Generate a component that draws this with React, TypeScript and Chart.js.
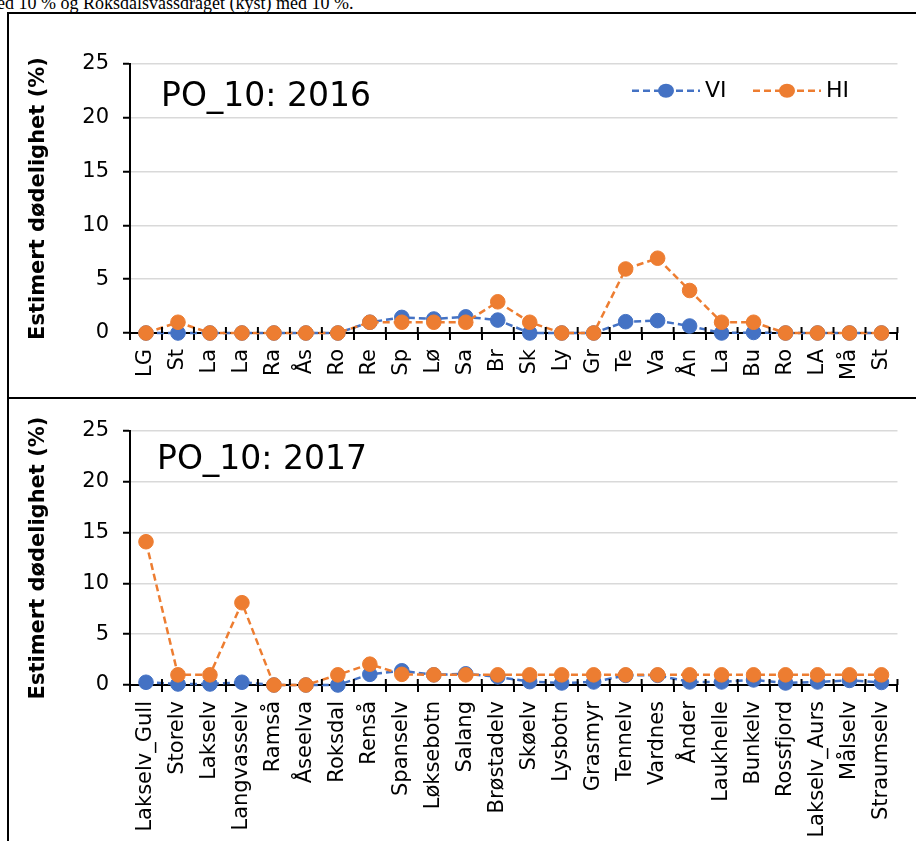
import React, { useEffect, useRef } from 'react';
import { Chart, registerables } from 'chart.js';

Chart.register(...registerables);

const FONT = '"DejaVu Sans", sans-serif';

const labels2016 = ['LG', 'St', 'La', 'La', 'Ra', 'Ås', 'Ro', 'Re', 'Sp', 'Lø', 'Sa', 'Br', 'Sk', 'Ly', 'Gr', 'Te', 'Va', 'Ån', 'La', 'Bu', 'Ro', 'LA', 'Må', 'St'];
const vi2016 = [0, 0, 0, 0, 0, 0, 0, 1.0, 1.45, 1.3, 1.5, 1.2, 0, 0, 0, 1.05, 1.15, 0.65, 0, 0.05, 0, 0, 0, 0];
const hi2016 = [0, 1, 0, 0, 0, 0, 0, 1, 1, 1, 1, 2.9, 1, 0, 0, 5.95, 6.95, 3.95, 1, 1, 0, 0, 0, 0];

const labels2017 = ['Lakselv_Gull', 'Storelv', 'Lakselv', 'Langvasselv', 'Ramså', 'Åseelva', 'Roksdal', 'Renså', 'Spanselv', 'Løksebotn', 'Salang', 'Brøstadelv', 'Skøelv', 'Lysbotn', 'Grasmyr', 'Tennelv', 'Vardnes', 'Ånder', 'Laukhelle', 'Bunkelv', 'Rossfjord', 'Lakselv_Aurs', 'Målselv', 'Straumselv'];
const vi2017 = [0.27, 0.1, 0.1, 0.27, 0, 0, 0, 1.05, 1.4, 1.0, 1.1, 0.8, 0.33, 0.2, 0.3, 0.95, 0.95, 0.3, 0.3, 0.5, 0.2, 0.3, 0.45, 0.25];
const hi2017 = [14.1, 1, 1, 8.1, 0, 0, 1, 2.05, 1.05, 1, 1, 1, 1, 1, 1, 1, 1, 1, 1, 1, 1, 1, 1, 1];

const seriesNames = ['VI', 'HI'];
const yMin = 0;
const yMax = 25;
const yStep = 2.5;
const yLabelStep = 5;
const yTitle = 'Estimert dødelighet (%)';
const title2016 = 'PO_10: 2016';
const title2017 = 'PO_10: 2017';
const introText = 'med 10 % og Roksdalsvassdraget (kyst) med 10 %.';

const BLUE = '#4472C4';
const ORANGE = '#ED7D31';

const decorPlugin = {
  id: 'decor',
  afterDatasetsDraw(chart: any, _args: any, opts: any) {
    const { ctx, chartArea } = chart;
    const n = chart.data.labels.length;
    ctx.save();
    ctx.strokeStyle = '#000';
    ctx.lineWidth = 2;
    for (let i = 0; i <= n; i++) {
      const x = chartArea.left + ((chartArea.right - chartArea.left) * i) / n;
      ctx.beginPath();
      ctx.moveTo(x, chartArea.bottom - 6);
      ctx.lineTo(x, chartArea.bottom);
      ctx.stroke();
    }
    ctx.fillStyle = '#000';
    ctx.font = '33px ' + FONT;
    ctx.textAlign = 'left';
    ctx.textBaseline = 'alphabetic';
    ctx.fillText(opts.title, opts.titleX, opts.titleY);
    if (opts.legend) {
      const { xs, y, textY } = opts.legend;
      chart.data.datasets.forEach((ds: any, i: number) => {
        const x0 = xs[i];
        ctx.strokeStyle = ds.borderColor;
        ctx.lineWidth = 2.5;
        ctx.setLineDash([7, 4]);
        ctx.beginPath();
        ctx.moveTo(x0, y);
        ctx.lineTo(x0 + 68, y);
        ctx.stroke();
        ctx.setLineDash([]);
        ctx.fillStyle = ds.borderColor;
        ctx.beginPath();
        ctx.ellipse(x0 + 34, y, 8, 7, 0, 0, Math.PI * 2);
        ctx.fill();
        ctx.fillStyle = '#000';
        ctx.font = '22px ' + FONT;
        ctx.fillText(ds.label, x0 + 73, textY);
      });
    }
    ctx.restore();
  },
};

function makeConfig(labels: string[], vi: number[], hi: number[], o: any): any {
  const ds = (name: string, data: number[], color: string, order: number) => ({
    label: name,
    data,
    borderColor: color,
    backgroundColor: color,
    borderWidth: 2.5,
    borderDash: [7, 4],
    pointRadius: 7.3,
    pointHoverRadius: 7.3,
    pointBackgroundColor: color,
    pointBorderColor: color,
    pointBorderWidth: 1,
    tension: 0,
    clip: false,
    order,
  });
  return {
    type: 'line',
    data: {
      labels,
      datasets: [ds(seriesNames[0], vi, BLUE, 1), ds(seriesNames[1], hi, ORANGE, 0)],
    },
    options: {
      responsive: false,
      animation: false,
      events: [],
      layout: { padding: { top: o.padTop, right: 15, left: 0, bottom: 0 } },
      plugins: {
        legend: { display: false },
        tooltip: { enabled: false },
        title: { display: false },
        decor: { title: o.title, titleX: o.titleX, titleY: o.titleY, legend: o.legend },
      },
      scales: {
        x: {
          type: 'category',
          offset: true,
          afterFit: (s: any) => {
            s.height = o.xHeight;
          },
          grid: {
            display: true,
            offset: true,
            drawOnChartArea: false,
            drawTicks: true,
            tickLength: 7,
            tickColor: '#000',
            tickWidth: 2,
            color: '#000',
            lineWidth: 2,
          },
          border: { display: true, color: '#000', width: 2 },
          ticks: {
            autoSkip: false,
            minRotation: 90,
            maxRotation: 90,
            padding: 9,
            color: '#000',
            font: { family: FONT, size: 21 },
          },
        },
        y: {
          min: yMin,
          max: yMax,
          afterFit: (s: any) => {
            s.width = 130;
          },
          grid: {
            drawTicks: true,
            tickLength: 7,
            tickColor: '#000',
            tickWidth: 2,
            lineWidth: 1.5,
            color: (c: any) =>
              c.tick && c.tick.value > 0 && c.tick.value % yLabelStep === 0 ? '#d9d9d9' : 'rgba(0,0,0,0)',
          },
          border: { display: true, color: '#000', width: 2 },
          ticks: {
            stepSize: yStep,
            padding: 14,
            color: '#000',
            font: { family: FONT, size: 21 },
            callback: (v: any) => (Number(v) % yLabelStep === 0 ? String(v) : ''),
          },
          title: {
            display: true,
            text: yTitle,
            color: '#000',
            font: { family: FONT, size: 21, weight: 'bold' },
            padding: { top: 26, bottom: 0 },
          },
        },
      },
    },
    plugins: [decorPlugin],
  };
}

function ChartCanvas({ config, style, width, height }: any) {
  const ref = useRef<HTMLCanvasElement | null>(null);
  useEffect(() => {
    if (!ref.current) return;
    const chart = new Chart(ref.current, config);
    return () => chart.destroy();
  }, []);
  return <canvas ref={ref} width={width} height={height} style={{ position: 'absolute', display: 'block', width, height, ...style }} />;
}

export default function App() {
  const cfg1 = makeConfig(labels2016, vi2016, hi2016, {
    padTop: 50,
    xHeight: 65,
    title: title2016,
    titleX: 161,
    titleY: 92,
    legend: { xs: [632, 753], y: 76.7, textY: 83 },
  });
  const cfg2 = makeConfig(labels2017, vi2017, hi2017, {
    padTop: 31,
    xHeight: 156,
    title: title2017,
    titleX: 157,
    titleY: 68.5,
    legend: null,
  });
  return (
    <div style={{ position: 'fixed', left: 0, top: 0, width: 916, height: 841, overflow: 'hidden', background: '#fff' }}>
      <div
        style={{
          position: 'absolute',
          left: -17,
          top: -6,
          fontFamily: '"Liberation Serif", "Times New Roman", serif',
          fontSize: 18,
          lineHeight: '18px',
          whiteSpace: 'nowrap',
          color: '#000',
        }}
      >
        {introText}
      </div>
      <ChartCanvas config={cfg1} width={916} height={384} style={{ left: 0, top: 14 }} />
      <ChartCanvas config={cfg2} width={916} height={441} style={{ left: 0, top: 400 }} />
      <div style={{ position: 'absolute', left: 7, top: 12, width: 2, height: 829, background: '#000' }} />
      <div style={{ position: 'absolute', left: 7, top: 12, width: 909, height: 2, background: '#000' }} />
      <div style={{ position: 'absolute', left: 7, top: 397, width: 909, height: 2, background: '#000' }} />
    </div>
  );
}
